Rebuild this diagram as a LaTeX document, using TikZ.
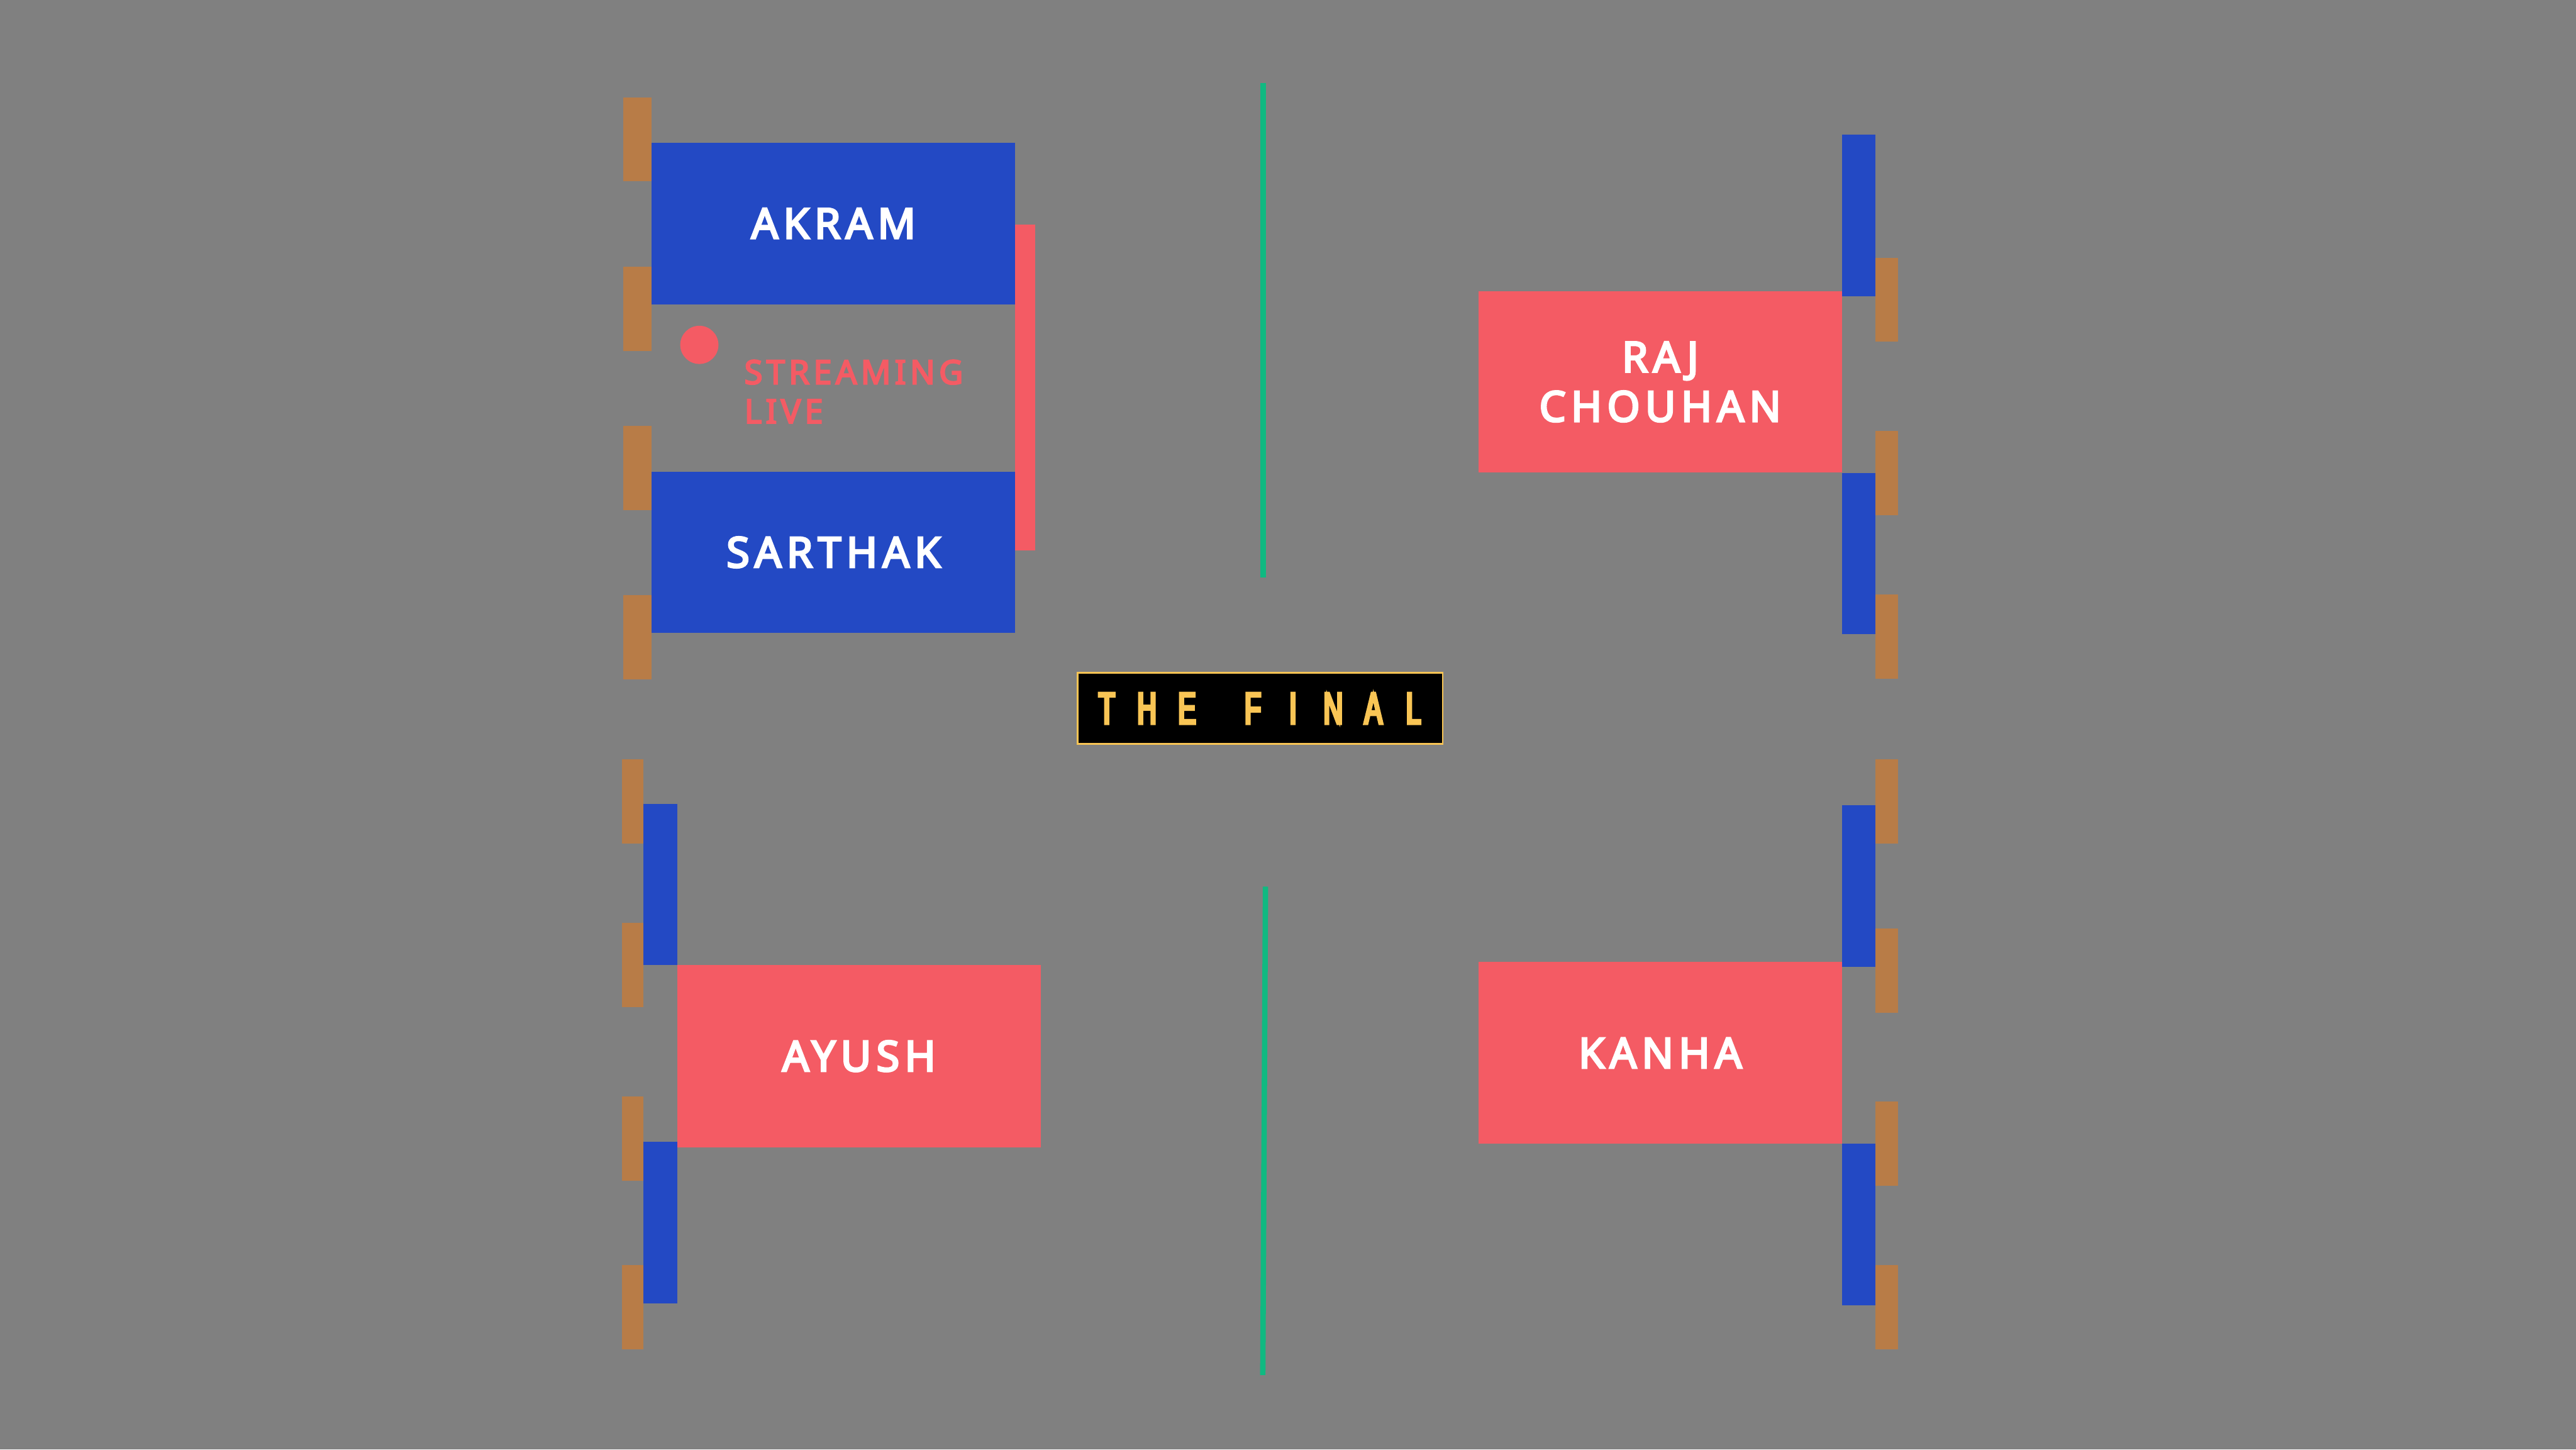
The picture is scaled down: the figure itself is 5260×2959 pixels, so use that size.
\documentclass[tikz,border=0pt]{standalone}
\usepackage{fontspec}
\setmainfont{Noto Sans}
\newfontfamily\namefont[FakeBold=4.5,LetterSpace=12]{Noto Sans}
\newfontfamily\finalfont[FakeStretch=0.6,FakeBold=6]{Liberation Sans}
\definecolor{cbg}{HTML}{808080}
\definecolor{cblue}{HTML}{2349C4}
\definecolor{cred}{HTML}{F45B64}
\definecolor{cbrown}{HTML}{B87C47}
\definecolor{cgreen}{HTML}{10B981}
\definecolor{cgold}{HTML}{F9C555}
\begin{document}
\begin{tikzpicture}[x=0.2pt,y=-0.2pt,
  namefonts/.style={font=\namefont\fontsize{17.2}{20.2}\selectfont},
  bluebox/.style={namefonts, fill=cblue, text=white, inner sep=0pt, outer sep=0pt, align=center, minimum width=148.4pt},
  redbox/.style={namefonts, fill=cred, text=white, inner sep=0pt, outer sep=0pt, align=center, minimum width=148.4pt},
  tab/.style={fill=cbrown},
  bar/.style={fill=cblue},
  divider/.style={draw=cgreen, line width=2.2pt},
  finalbox/.style={fill=black, draw=cgold, line width=0.6pt, inner sep=0pt, outer sep=0pt, minimum width=149pt, minimum height=29pt, text=cgold}
]
\useasboundingbox (0,0) rectangle (5260,2959);
\fill[cbg] (0,0) rectangle (5260,2959);

% ---------- top left: AKRAM / SARTHAK ----------
\fill[tab] (1273,199) rectangle (1331,370);
\fill[tab] (1273,544) rectangle (1331,716);
\fill[tab] (1273,870) rectangle (1331,1041);
\fill[tab] (1273,1215) rectangle (1331,1387);
\fill[cred] (2073,459) rectangle (2114,1124);
\node[bluebox, minimum height=66pt] (akram) at (1702,456) {AKRAM};
\node[bluebox, minimum height=65.8pt] (sarthak) at (1702,1127.5) {SARTHAK};
\node[circle, fill=cred, minimum size=15.6pt, inner sep=0pt] (dot) at (1428,704) {};
\node[anchor=north west, inner sep=0pt, text=cred, align=left,
      font=\namefont\fontsize{13.5}{16}\selectfont] (live) at (1519,734) {STREAMING\\LIVE};

% ---------- dividers ----------
\coordinate (g1a) at (2579.5,169);
\coordinate (g1b) at (2579.5,1179);
\coordinate (g2a) at (2584,1810);
\coordinate (g2b) at (2578.5,2807);
\draw[divider] (g1a) -- (g1b);
\draw[divider] (g2a) -- (g2b);

% ---------- THE FINAL ----------
\node[finalbox] (final) at (2573,1446) {\finalfont\fontsize{18.2}{20}\selectfont
  \makebox[16.4pt]{T}\makebox[16.4pt]{H}\makebox[16.4pt]{E}\hspace{10.5pt}\makebox[16.4pt]{F}\makebox[16.4pt]{I}\makebox[16.4pt]{N}\makebox[16.4pt]{A}\makebox[16.4pt]{L}};

% ---------- top right: RAJ CHOUHAN ----------
\fill[bar] (3761,275) rectangle (3830,605);
\fill[bar] (3761,966) rectangle (3830,1295);
\fill[tab] (3830,526) rectangle (3875,697);
\fill[tab] (3830,880) rectangle (3875,1052);
\fill[tab] (3830,1214) rectangle (3875,1386);
\node[redbox, minimum height=74.2pt] (raj) at (3390,779.5) {RAJ\\CHOUHAN};

% ---------- bottom left: AYUSH ----------
\fill[tab] (1270,1550) rectangle (1314,1722);
\fill[tab] (1270,1884) rectangle (1314,2056);
\fill[tab] (1270,2238) rectangle (1314,2410);
\fill[tab] (1270,2583) rectangle (1314,2755);
\fill[bar] (1314,1641) rectangle (1383,1970);
\fill[bar] (1314,2331) rectangle (1383,2661);
\node[redbox, minimum height=74.4pt] (ayush) at (1754,2156) {AYUSH};

% ---------- bottom right: KANHA ----------
\fill[bar] (3761,1644) rectangle (3830,1974);
\fill[bar] (3761,2335) rectangle (3830,2664);
\fill[tab] (3830,1550) rectangle (3875,1722);
\fill[tab] (3830,1895) rectangle (3875,2067);
\fill[tab] (3830,2249) rectangle (3875,2421);
\fill[tab] (3830,2583) rectangle (3875,2755);
\node[redbox, minimum height=74.2pt] (kanha) at (3390,2149.5) {KANHA};
\end{tikzpicture}
\end{document}
